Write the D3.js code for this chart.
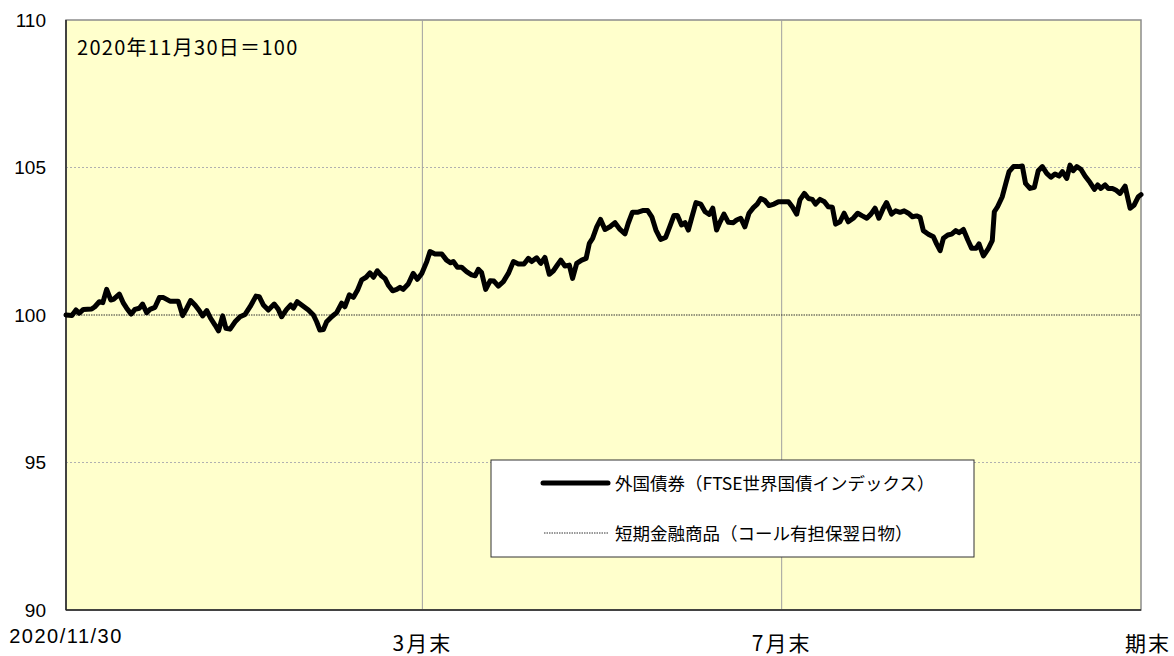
<!DOCTYPE html>
<html>
<head>
<meta charset="utf-8">
<script src="https://cdn.jsdelivr.net/npm/d3@7"></script>
<style>
  body { margin: 0; background: #fff; }
  text { font-family: "Noto Sans CJK JP", "Liberation Sans", sans-serif; fill: #000; }
</style>
</head>
<body>
<div id="svg"></div>
<script>
// days since 2020/11/30
var days = [
  0, 2, 3.4, 4.5, 5.9, 8.7, 9.8, 11.3, 12.5, 13.8, 15.2, 16.1, 18.1, 19.5, 20.6, 22.1, 23.4, 24.9, 26.0, 27.4,
  28.5, 30.2, 31.7, 33.1, 35.3, 38.1, 39.6, 41.0, 42.3, 43.8, 45.3, 46.4, 47.8, 49.1, 50.6, 51.8, 53.2, 54.3, 55.7, 57.4,
  59.1, 60.8, 62.5, 64.5, 65.6, 67.0, 68.7, 70.7, 72.1, 73.2, 74.9, 76.3, 77.2, 78.5, 80.0, 82.3, 84.0, 85.1, 86.2, 87.4,
  88.5, 90.2, 91.9, 93.6, 94.7, 96.2, 97.6, 99.0, 100.4, 101.9, 103.2, 104.4, 105.7, 107.2, 108.3, 109.4, 110.9, 112.3, 113.4, 114.5,
  116.2, 117.9, 119.3, 120.8, 122.5, 123.6, 125.3, 127.6, 129.2, 130.6, 131.5, 132.9, 134.3, 136.0, 137.7, 138.9, 140.0, 141.1, 142.5, 144.0,
  145.3, 146.8, 148.5, 150.2, 151.9, 153.6, 155.5, 157.0, 158.1, 159.8, 161.2, 162.6, 164.1, 165.5, 166.6, 168.0, 169.4, 170.9, 172.0, 173.4,
  175.1, 176.6, 177.7, 178.8, 180.2, 181.5, 183.0, 184.7, 186.4, 188.1, 189.8, 190.9, 192.3, 194.0, 195.8, 197.5, 198.9, 200.3, 201.9, 203.6,
  205.1, 206.4, 207.6, 209.0, 210.2, 211.3, 212.4, 213.9, 215.5, 217.0, 218.4, 219.6, 220.9, 222.1, 223.4, 224.9, 226.6, 227.7, 229.1, 230.5,
  231.9, 233.4, 234.7, 235.9, 237.3, 238.7, 240.4, 241.9, 243.6, 245.3, 246.6, 248.1, 249.2, 250.7, 252.1, 253.4, 254.5, 256.0, 257.5, 258.8,
  260.2, 261.3, 262.8, 264.2, 265.6, 267.3, 268.8, 270.4, 271.9, 273.3, 274.7, 276.0, 277.5, 278.6, 280.3, 281.7, 283.2, 284.6, 286.0, 287.4,
  288.8, 290.0, 291.1, 292.8, 294.5, 295.6, 296.8, 297.9, 299.4, 300.7, 302.1, 303.2, 304.7, 306.2, 307.5, 309.0, 310.0, 311.5, 313.2, 314.5,
  315.2, 316.3, 317.9, 319.1, 320.2, 321.7, 323.4, 324.7, 325.8, 327.3, 328.8, 330.1, 331.5, 333.0, 334.4, 335.8, 337.2, 338.3, 339.8, 340.9,
  342.0, 343.2, 344.6, 346.0, 347.7, 349.2, 350.3, 351.4, 352.8, 353.9, 355.3, 356.4, 357.9, 359.6, 361.3, 362.7, 364.1, 365
];

// 外国債券（FTSE世界国債インデックス）
var foreignBond = [
  100.00, 99.98, 100.17, 100.06, 100.19, 100.20, 100.28, 100.45, 100.42, 100.87, 100.51, 100.53, 100.71, 100.40, 100.23, 100.03, 100.19, 100.23, 100.37, 100.08,
  100.19, 100.26, 100.59, 100.59, 100.47, 100.47, 99.98, 100.23, 100.49, 100.34, 100.14, 99.97, 100.15, 99.89, 99.66, 99.46, 99.97, 99.55, 99.52, 99.77,
  99.94, 100.02, 100.28, 100.64, 100.62, 100.34, 100.17, 100.37, 100.19, 99.94, 100.19, 100.34, 100.23, 100.45, 100.34, 100.17, 100.00, 99.77, 99.49, 99.51,
  99.77, 99.94, 100.08, 100.40, 100.28, 100.68, 100.60, 100.85, 101.19, 101.28, 101.43, 101.28, 101.50, 101.32, 101.24, 101.02, 100.82, 100.87, 100.94, 100.87,
  101.05, 101.41, 101.21, 101.41, 101.81, 102.15, 102.07, 102.07, 101.86, 101.77, 101.81, 101.62, 101.62, 101.47, 101.36, 101.33, 101.55, 101.44, 100.87, 101.16,
  101.15, 100.98, 101.13, 101.41, 101.81, 101.73, 101.73, 101.92, 101.81, 101.94, 101.75, 101.95, 101.38, 101.50, 101.66, 101.86, 101.66, 101.69, 101.24, 101.75,
  101.86, 101.92, 102.43, 102.60, 102.99, 103.24, 102.90, 102.99, 103.13, 102.90, 102.75, 103.11, 103.48, 103.48, 103.54, 103.54, 103.33, 102.88, 102.56, 102.63,
  103.02, 103.37, 103.37, 103.05, 103.13, 102.88, 103.28, 103.81, 103.76, 103.50, 103.41, 103.62, 102.88, 103.16, 103.42, 103.14, 103.13, 103.22, 103.28, 102.99,
  103.45, 103.64, 103.76, 103.95, 103.88, 103.71, 103.76, 103.84, 103.84, 103.84, 103.67, 103.42, 103.90, 104.12, 103.95, 103.92, 103.76, 103.92, 103.84, 103.67,
  103.65, 103.08, 103.16, 103.45, 103.16, 103.28, 103.45, 103.36, 103.28, 103.42, 103.62, 103.28, 103.62, 103.81, 103.42, 103.53, 103.48, 103.53, 103.45, 103.33,
  103.36, 103.31, 102.86, 102.74, 102.65, 102.41, 102.18, 102.60, 102.71, 102.74, 102.86, 102.79, 102.90, 102.54, 102.26, 102.26, 102.41, 102.00, 102.26, 102.52,
  103.50, 103.67, 104.01, 104.46, 104.86, 105.03, 105.03, 105.05, 104.46, 104.29, 104.33, 104.89, 105.03, 104.80, 104.67, 104.78, 104.71, 104.86, 104.63, 105.08,
  104.89, 105.03, 104.94, 104.71, 104.49, 104.26, 104.41, 104.29, 104.41, 104.29, 104.29, 104.24, 104.12, 104.37, 103.62, 103.73, 104.01, 104.08
];

// 短期金融商品（コール有担保翌日物）
var callDays = [0, 365];
var callRate = [100, 100];

var yTicks = [90, 95, 100, 105, 110];
var yGrid = [95, 105];
var xTickDays = [0, 121, 243, 365];
var xTickLabels = ["2020/11/30", "3月末", "7月末", "期末"];
var seriesNames = ["外国債券（FTSE世界国債インデックス）", "短期金融商品（コール有担保翌日物）"];
var baseNote = "2020年11月30日＝100";

var width = 1174;
var height = 656;
var pLeft = 66, pRight = 1141, pTop = 20, pBottom = 610;

var x_axis = d3.scaleLinear().domain([0, 365]).range([pLeft, pRight]);
var y_axis = d3.scaleLinear().domain([90, 110]).range([pBottom, pTop]);

var svg = d3.select("#svg").append("svg")
  .attr("width", width)
  .attr("height", height);

// plot area
svg.append("rect")
  .attr("x", pLeft)
  .attr("y", pTop)
  .attr("width", pRight - pLeft)
  .attr("height", pBottom - pTop)
  .attr("fill", "#ffffcc")
  .attr("stroke", "#8c8c8c")
  .attr("stroke-width", 1.5);

svg.selectAll(".hgrid")
  .data(yGrid)
  .enter().append("line")
  .attr("class", "hgrid")
  .attr("x1", pLeft).attr("x2", pRight)
  .attr("y1", function(d) { return y_axis(d); })
  .attr("y2", function(d) { return y_axis(d); })
  .attr("stroke", "#b0b0b0")
  .attr("stroke-width", 1)
  .attr("stroke-dasharray", "2,2");

svg.selectAll(".vgrid")
  .data(xTickDays.slice(1, 3))
  .enter().append("line")
  .attr("class", "vgrid")
  .attr("x1", function(d) { return x_axis(d); })
  .attr("x2", function(d) { return x_axis(d); })
  .attr("y1", pTop).attr("y2", pBottom)
  .attr("stroke", "#a0a0a0")
  .attr("stroke-width", 1);

// axis lines
svg.append("line")
  .attr("x1", pLeft).attr("x2", pLeft)
  .attr("y1", pTop).attr("y2", pBottom)
  .attr("stroke", "#222").attr("stroke-width", 1.5);
svg.append("line")
  .attr("x1", pLeft).attr("x2", pRight)
  .attr("y1", pBottom).attr("y2", pBottom)
  .attr("stroke", "#222").attr("stroke-width", 1.5);

var callLine = d3.line()
  .x(function(d, i) { return x_axis(callDays[i]); })
  .y(function(d) { return y_axis(d); });

svg.append("path")
  .datum(callRate)
  .attr("d", callLine)
  .attr("fill", "none")
  .attr("stroke", "#333")
  .attr("stroke-width", 1)
  .attr("stroke-dasharray", "1.5,1");

var bondLine = d3.line()
  .x(function(d, i) { return x_axis(days[i]); })
  .y(function(d) { return y_axis(d); });

svg.append("path")
  .datum(foreignBond)
  .attr("d", bondLine)
  .attr("fill", "none")
  .attr("stroke", "#000")
  .attr("stroke-width", 5)
  .attr("stroke-linejoin", "round")
  .attr("stroke-linecap", "round");

// y labels
var yAx = svg.append("g")
  .attr("transform", "translate(" + pLeft + ",0)")
  .call(d3.axisLeft(y_axis).tickValues(yTicks).tickSize(0).tickPadding(20));
yAx.select(".domain").remove();
yAx.selectAll("text")
  .style("font-size", "19px")
  .style("font-family", "'Liberation Sans', sans-serif");

// x labels
svg.selectAll(".xlab")
  .data(xTickDays)
  .enter().append("text")
  .attr("class", "xlab")
  .attr("x", function(d, i) { return i == xTickDays.length - 1 ? 1171 : x_axis(d); })
  .attr("y", function(d, i) { return i == 0 ? 643 : 651; })
  .attr("text-anchor", function(d, i) { return i == xTickDays.length - 1 ? "end" : "middle"; })
  .style("font-size", function(d, i) { return i == 0 ? "20px" : "21px"; })
  .style("letter-spacing", function(d, i) { return i == 0 ? "1.5px" : "2px"; })
  .style("font-family", function(d, i) { return i == 0 ? "'Liberation Sans', sans-serif" : null; })
  .text(function(d, i) { return xTickLabels[i]; });

svg.append("text")
  .attr("x", 77)
  .attr("y", 55)
  .style("font-size", "20px")
  .style("letter-spacing", "1.3px")
  .text(baseNote);

// legend
var lg = svg.append("g").attr("transform", "translate(491,460)");
lg.append("rect")
  .attr("width", 483).attr("height", 97)
  .attr("fill", "#fff")
  .attr("stroke", "#333")
  .attr("stroke-width", 1);
lg.append("line")
  .attr("x1", 52).attr("x2", 117).attr("y1", 23).attr("y2", 23)
  .attr("stroke", "#000").attr("stroke-width", 5).attr("stroke-linecap", "round");
lg.append("line")
  .attr("x1", 53).attr("x2", 117).attr("y1", 73).attr("y2", 73)
  .attr("stroke", "#333").attr("stroke-width", 1).attr("stroke-dasharray", "1.5,1");
lg.selectAll(".lgtext")
  .data(seriesNames)
  .enter().append("text")
  .attr("class", "lgtext")
  .attr("x", 124)
  .attr("y", function(d, i) { return 30 + i * 50; })
  .style("font-size", "17.5px")
  .text(function(d) { return d; });
</script>
</body>
</html>
